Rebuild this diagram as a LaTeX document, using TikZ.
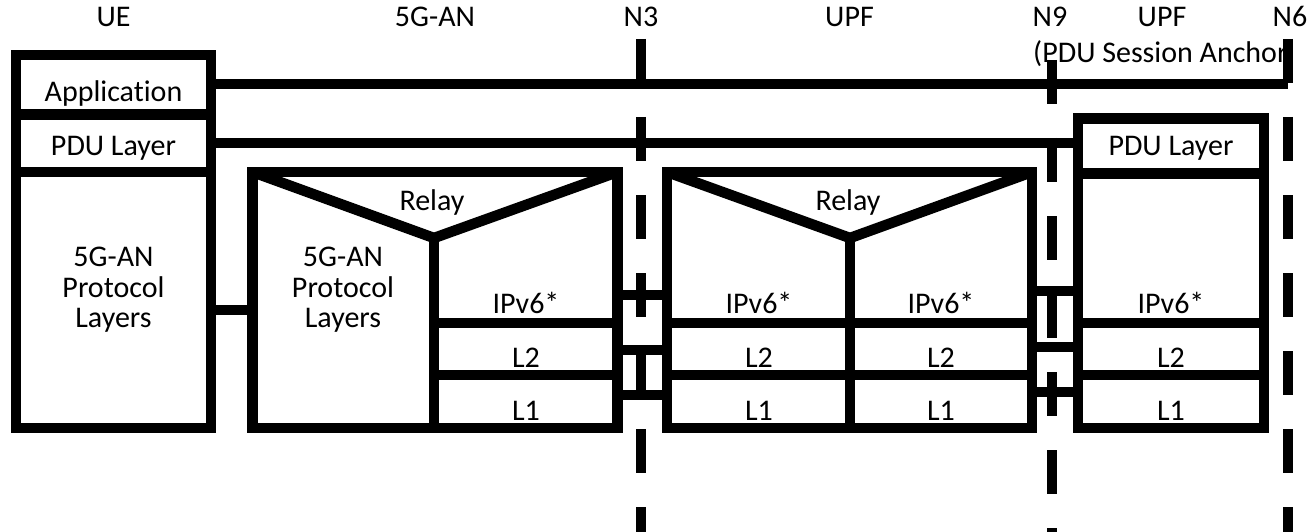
\documentclass[tikz,border=0pt]{standalone}
\usepackage{fontspec}
\setmainfont{Carlito}[Ligatures=NoCommon]
\usetikzlibrary{calc}

\begin{document}
\begin{tikzpicture}[
    x=1pt, y=-1pt,
    box/.style={draw, line width=10.5pt, inner sep=0pt, outer sep=0pt},
    link/.style={line width=10.5pt},
    iface/.style={line width=10.5pt, dash pattern=on 44pt off 34pt},
    lbl/.style={font=\fontsize{30}{30.5}\selectfont, inner sep=0pt, anchor=base, align=center}
]
    \useasboundingbox (0,0) rectangle (1309,532);

    % protocol stacks
    \node[box, minimum width=195pt, minimum height=373pt]   (ue)  at (113.5,241.5) {};
    \node[box, minimum width=365pt, minimum height=256pt]   (an)  at (435,300) {};
    \node[box, minimum width=365pt, minimum height=256pt]   (upf) at (849.5,300) {};
    \node[box, minimum width=186pt, minimum height=309.5pt] (psa) at (1171,273.25) {};

    \coordinate (anapex)  at (434,238);
    \coordinate (upfapex) at (850,238);

    % UE layers
    \draw[link] (ue.west |- 0,114.5) -- (ue.east |- 0,114.5);
    \draw[link] (ue.west |- 0,172) -- (ue.east |- 0,172);

    % relay
    \draw[link] (an.north west) -- (anapex) -- (an.north east);
    \draw[link] (anapex) -- (anapex |- an.south);
    \draw[link] (upf.north west) -- (upfapex) -- (upf.north east);
    \draw[link] (upfapex) -- (upfapex |- upf.south);

    % IPv6 / L2 / L1 rows
    \foreach \y in {323,375} {
        \draw[link] (anapex |- 0,\y) -- (an.east |- 0,\y);
        \draw[link] (upf.west |- 0,\y) -- (upf.east |- 0,\y);
        \draw[link] (psa.west |- 0,\y) -- (psa.east |- 0,\y);
    }
    \draw[link] (psa.west |- 0,173.5) -- (psa.east |- 0,173.5);

    % headings
    \node[lbl] (uelbl)  at (113.5,27) {UE};
    \node[lbl] (anlbl)  at (435,27) {5G-AN};
    \node[lbl] (n3lbl)  at (641,27) {N3};
    \node[lbl] (upflbl) at (849.5,27) {UPF};
    \node[lbl] (n9lbl)  at (1050,27) {N9};
    \node[lbl] (psalbl) at (1162,27) {UPF};
    \node[lbl] (n6lbl)  at (1290,27) {N6};
    \node[lbl, anchor=base west] (psanote) at (1033,63) {(PDU Session Anchor};

    % layer names
    \node[lbl] (app)   at (113.5,102) {Application};
    \node[lbl] (uepdu) at (113.5,156) {PDU Layer};
    \node[lbl, anchor=north] (uean) at (113.5,247) {5G-AN\\Protocol\\Layers};
    \node[lbl, anchor=north] (anan) at (343,247) {5G-AN\\Protocol\\Layers};
    \node[lbl] (anrelay)  at (432,210) {Relay};
    \node[lbl] (upfrelay) at (848,210) {Relay};
    \node[lbl] (psapdu)   at (1171,155) {PDU Layer};
    \foreach \x/\cell in {526/an,759/upfa,941/upfb,1171/psa} {
        \node[lbl] (ip\cell) at (\x,313) {IPv6*};
        \node[lbl] (ltwo\cell) at (\x,367) {L2};
        \node[lbl] (lone\cell) at (\x,420) {L1};
    }

    % reference points
    \coordinate (n3top) at (641,39);  \coordinate (n3bot) at (641,532);
    \coordinate (n9top) at (1052,60); \coordinate (n9bot) at (1052,532);
    \coordinate (n6top) at (1288,39); \coordinate (n6bot) at (1288,532);
    \draw[iface] (n3top) -- (n3bot);
    \draw[iface] (n9top) -- (n9bot);
    \draw[iface] (n6top) -- (n6bot);

    % peer links
    \draw[link] (ue.east |- 0,84) -- (n6top |- 0,84);
    \draw[link] (ue.east |- 0,143) -- (psa.west |- 0,143);
    \draw[link] (ue.east |- 0,310) -- (an.west |- 0,310);
    \foreach \y in {295,350,395}
        \draw[link] (an.east |- 0,\y) -- (upf.west |- 0,\y);
    \foreach \y in {291,347,392}
        \draw[link] (upf.east |- 0,\y) -- (psa.west |- 0,\y);
\end{tikzpicture}
\end{document}
